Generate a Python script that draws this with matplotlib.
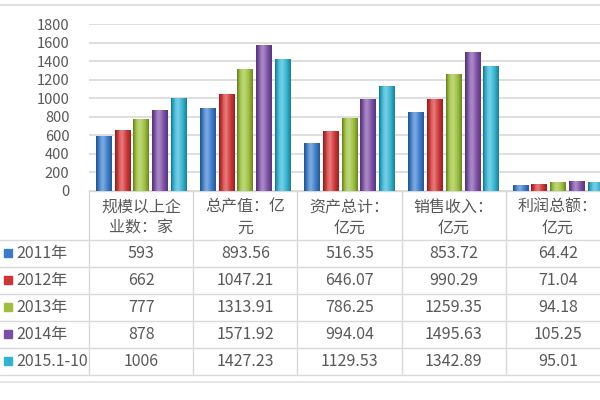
import matplotlib
matplotlib.use('Agg')
import matplotlib.pyplot as plt
import numpy as np
from matplotlib.colors import to_rgb

plt.rcParams['font.family'] = ['Noto Sans CJK SC', 'DejaVu Sans']

# data
categories = ['规模以上企\n业数：家', '总产值：亿\n元', '资产总计：\n亿元', '销售收入：\n亿元', '利润总额：\n亿元']
series_names = ['2011年', '2012年', '2013年', '2014年', '2015.1-10']
values = {
    '2011年':    [593, 893.56, 516.35, 853.72, 64.42],
    '2012年':    [662, 1047.21, 646.07, 990.29, 71.04],
    '2013年':    [777, 1313.91, 786.25, 1259.35, 94.18],
    '2014年':    [878, 1571.92, 994.04, 1495.63, 105.25],
    '2015.1-10': [1006, 1427.23, 1129.53, 1342.89, 95.01],
}
value_labels = {
    '2011年':    ['593', '893.56', '516.35', '853.72', '64.42'],
    '2012年':    ['662', '1047.21', '646.07', '990.29', '71.04'],
    '2013年':    ['777', '1313.91', '786.25', '1259.35', '94.18'],
    '2014年':    ['878', '1571.92', '994.04', '1495.63', '105.25'],
    '2015.1-10': ['1006', '1427.23', '1129.53', '1342.89', '95.01'],
}
colors = ['#3a7ccb', '#d23434', '#9cc03a', '#7c4ea6', '#2fb3d3']
yticks = [0, 200, 400, 600, 800, 1000, 1200, 1400, 1600, 1800]

text_col = '#595959'
grid_col = '#d9d9d9'

fig = plt.figure(figsize=(6, 4), dpi=100)

# table / frame layer in pixel coordinates
tab = fig.add_axes([0, 0, 1, 1])
tab.set_xlim(0, 600)
tab.set_ylim(400, 0)
tab.axis('off')

W, H = 600, 400
x0 = 89
cw = 104.2
head_top, head_bot = 191, 240
row_h = 27

tab.axhline(5, color='#e0e0e0', lw=1.5)
tab.axhline(382, color='#e6e6e6', lw=1.5)

# plot area
ax = fig.add_axes([x0 / W, (H - head_top) / H, (W - x0) / W, (head_top - 24) / H])
ax.set_facecolor('none')
pitch, bw = 0.18, 0.15


def shade(c, f):
    r = np.array(to_rgb(c))
    if f > 0:
        return r + (1 - r) * f
    return r * (1 + f)


prof = np.linspace(0, 1, 40)
fac = np.interp(prof, [0, 0.3, 0.45, 0.75, 1], [-0.35, 0.25, 0.35, 0.0, -0.3])
for i, name in enumerate(series_names):
    xs = np.arange(len(categories)) + (i - 2) * pitch
    bars = ax.bar(xs, values[name], width=bw, color=colors[i], zorder=3)
    grad = np.array([[shade(colors[i], f) for f in fac]])
    for b in bars:
        im = ax.imshow(grad, extent=[b.get_x(), b.get_x() + b.get_width(), 0, b.get_height()],
                       aspect='auto', zorder=4, interpolation='bilinear')
        im.set_clip_path(b)

ax.set_xlim(-0.5, -0.5 + (W - x0) / cw)
ax.set_ylim(0, 1800)
ax.set_yticks(yticks)
ax.set_yticklabels([str(t) for t in yticks], fontsize=10.5, color=text_col)
ax.tick_params(axis='y', length=0, pad=14)
ax.set_xticks([])
ax.yaxis.grid(True, color=grid_col, lw=1.2, zorder=0)
for s in ax.spines.values():
    s.set_visible(False)

# table lines
bottom = head_bot + row_h * len(series_names)
for k in range(len(categories) + 1):
    xv = x0 + k * cw
    tab.plot([xv, xv], [head_top, bottom], color=grid_col, lw=1)
tab.plot([x0, W], [head_top, head_top], color=grid_col, lw=1)
for r in range(len(series_names) + 1):
    yv = head_bot + r * row_h
    tab.plot([0, W], [yv, yv], color=grid_col, lw=1)

for k, cat in enumerate(categories):
    cx = x0 + (k + 0.5) * cw
    for j, line in enumerate(cat.split('\n')):
        tab.text(cx, 207 + j * 21, line, ha='center', va='center', fontsize=11.5, color=text_col)

for r, name in enumerate(series_names):
    cy = head_bot + (r + 0.5) * row_h
    tab.add_patch(plt.Rectangle((4, cy - 4.5), 8, 8, color=colors[r]))
    tab.text(16, cy, name, ha='left', va='center', fontsize=11.5, color=text_col)
    for k, lab in enumerate(value_labels[name]):
        tab.text(x0 + (k + 0.5) * cw, cy, lab, ha='center', va='center', fontsize=11.5, color=text_col)

fig.savefig('out.png', dpi=100)
